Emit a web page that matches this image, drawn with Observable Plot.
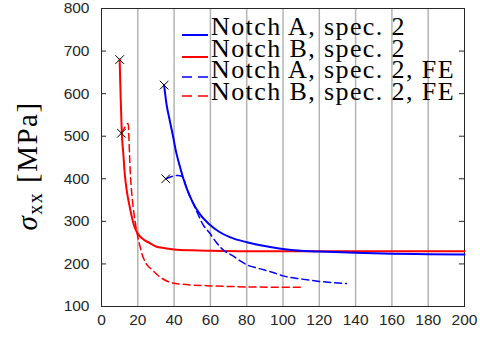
<!DOCTYPE html>
<html><head><meta charset="utf-8">
<script src="https://cdn.jsdelivr.net/npm/d3@7"></script>
<script src="https://cdn.jsdelivr.net/npm/@observablehq/plot@0.6"></script>
<style>
body{margin:0;background:#fff;}
#chart{position:relative;width:480px;height:338px;overflow:hidden;}
.serif{font-family:"Liberation Serif","Times New Roman",serif;color:#000;white-space:nowrap;position:absolute;}
.leg{font-size:26px;line-height:20px;letter-spacing:1.4px;}
.legline{position:absolute;left:182px;width:26px;height:4px;overflow:visible;}
#ylab{font-size:29px;line-height:29px;letter-spacing:1.5px;left:37px;top:166px;transform-origin:0 0;transform:rotate(-90deg) translate(-50%,-24px);}
#ylab sub{font-size:20px;vertical-align:-5px;line-height:0;}
</style>
</head><body><div id="chart"></div>
<script>
// Notch B, spec. 2 (solid red)
const bX = [10,10.5,11.2,12,12.8,14,15.6,17,18.3,20.2,23,26.6,30,35,40,50,60,80,100,140,200];
const bY = [680,600,506,460,412,370,333,305,286,270,258,249,241,237,234,232,231,230,230,230,230];
// Notch A, spec. 2 (solid blue)
const aX = [34.5,35.8,37.6,39.5,41,43,45,47,50,54,59.7,65,70.7,80,90,100,110,120,140,160,180,200];
const aY = [620,576,537,498,465,432,402,377,347,318,292,275,263,251,242,235,231,229,226,224,223,222];
// Notch A, spec. 2, FE (dashed blue)
const afX = [35.4,38.5,42,44.3,45,47,50,52.3,56,59.7,63,67,72,76.2,80,86,94.5,100,109.3,120,135];
const afY = [400,405,408,406,402,377,347,325,292,272,252,233,220,208,198,190,180,172,165,159,154];
// Notch B, spec. 2, FE (dashed red)
const bfX = [11,13,14.5,15,15.6,16.3,17.4,18.5,19.6,21,23,25,28.4,32,37.6,45,57.8,80,110];
const bfY = [507,522,530,505,440,385,335,300,272,245,215,198,184,170,157,152,149,146,145];
// crack-start markers
const mX = [10,11,34.5,35.4];
const mY = [680,507,620,400];

const xTicks = [0,20,40,60,80,100,120,140,160,180,200];
const yTicks = [100,200,300,400,500,600,700,800];
const gridTicks = [20,40,60,80,100,120,140,160,180];

const seriesNames = ["Notch A, spec. 2","Notch B, spec. 2","Notch A, spec. 2, FE","Notch B, spec. 2, FE"];
const seriesColors = ["#0000ff","#ff0000","#0000ff","#ff0000"];
const seriesDash = [null,null,"7,4","7,4"];

const toPts = (xs, ys) => xs.map((x,i)=>({x, y: ys[i]}));
const A = toPts(aX,aY), B = toPts(bX,bY), AF = toPts(afX,afY), BF = toPts(bfX,bfY), M = toPts(mX,mY);

const plot = Plot.plot({
  width: 480, height: 338,
  marginLeft: 101, marginRight: 16, marginTop: 8, marginBottom: 32,
  style: {fontFamily: "'Liberation Sans', Arial, sans-serif", fontSize: "15.5px", color: "#262626", background: "#fff"},
  x: {domain: [0,200]},
  y: {domain: [100,800]},
  marks: [
    Plot.ruleX(gridTicks, {stroke: "#b4b4b4", strokeWidth: 1.5}),
    Plot.ruleY(yTicks, {x1: 0, x2: 2.8, stroke: "#262626"}),
    Plot.ruleY(yTicks, {x1: 197.2, x2: 200, stroke: "#262626"}),
    Plot.frame({stroke: "#262626", strokeWidth: 1}),
    Plot.axisX(xTicks, {anchor: "bottom", tickSize: 0, tickPadding: 7, label: null, fill: "#262626"}),
    Plot.axisY(yTicks, {anchor: "left", tickSize: 0, tickPadding: 12, label: null, fill: "#262626"}),
    Plot.line(B, {x: "x", y: "y", stroke: seriesColors[1], strokeWidth: 2, curve: "monotone-x"}),
    Plot.line(A, {x: "x", y: "y", stroke: seriesColors[0], strokeWidth: 2, curve: "monotone-x"}),
    Plot.line(AF, {x: "x", y: "y", stroke: seriesColors[2], strokeWidth: 1.5, strokeDasharray: seriesDash[2], curve: "monotone-x"}),
    Plot.line(BF, {x: "x", y: "y", stroke: seriesColors[3], strokeWidth: 1.5, strokeDasharray: seriesDash[3], curve: "catmull-rom"}),
    Plot.dot(M, {x: "x", y: "y", symbol: "times", r: 4, stroke: "#000", strokeWidth: 1})
  ]
});
const chart = document.getElementById("chart");
chart.appendChild(plot);

// y label (HTML overlay)
const yl = document.createElement("div");
yl.id = "ylab"; yl.className = "serif";
yl.innerHTML = "<i>σ</i><sub>xx</sub> [MPa]";
chart.appendChild(yl);

// legend (HTML overlay)
const legY = [34.5, 56.5, 76.5, 96];
const legBase = [35.5, 58, 78.5, 101];
const NS = "http://www.w3.org/2000/svg";
seriesNames.forEach((name, i) => {
  const s = document.createElementNS(NS, "svg");
  s.setAttribute("class", "legline");
  s.setAttribute("width", "26"); s.setAttribute("height", "4");
  s.style.top = (legY[i] - 2) + "px";
  const ln = document.createElementNS(NS, "line");
  ln.setAttribute("x1", "0"); ln.setAttribute("x2", "26");
  ln.setAttribute("y1", "2"); ln.setAttribute("y2", "2");
  ln.setAttribute("stroke", seriesColors[i]);
  ln.setAttribute("stroke-width", i < 2 ? "2" : "1.5");
  if (seriesDash[i]) ln.setAttribute("stroke-dasharray", "10,6");
  s.appendChild(ln);
  chart.appendChild(s);
  const t = document.createElement("div");
  t.className = "serif leg";
  t.style.left = "211px";
  t.style.top = (legBase[i] - 18.8) + "px";
  t.textContent = name;
  chart.appendChild(t);
});
</script>
</body></html>
